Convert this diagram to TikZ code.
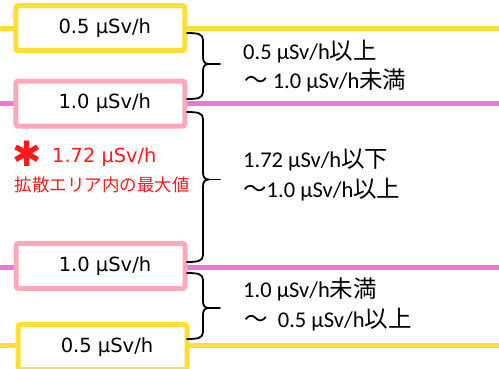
\documentclass[tikz,border=0pt]{standalone}
\usepackage{fontspec}
\newfontfamily\boxfont{DejaVu Sans}
\newfontfamily\rfont{Carlito}
\newfontfamily\jfont{Noto Sans CJK JP}
\definecolor{ylw}{HTML}{FFDF33}
\definecolor{pnkline}{HTML}{EE77CC}
\definecolor{pnkbox}{HTML}{FFA8BA}
\definecolor{redtxt}{HTML}{FF1A1A}
\newcommand\JP[1]{{\jfont\fontsize{23.5pt}{27pt}\selectfont #1}}
\newcommand\BraceR[4]{%
  \draw[bracepath] (#1,#2) .. controls (#1+11,#2) and (203,#2+1) .. (203,#2+7)
    -- (203,#4-7) .. controls (203,#4-2) and (205,#4) .. (209,#4)
    .. controls (205,#4) and (203,#4+2) .. (203,#4+7)
    -- (203,#3-7) .. controls (203,#3-1) and (#1+11,#3) .. (#1,#3);
  \draw[bracepath] (209,#4) -- (220,#4);}
\begin{document}
\begin{tikzpicture}[x=1pt,y=-1pt,
  yline/.style={draw=ylw,line width=5pt},
  pline/.style={draw=pnkline,line width=5pt},
  ybox/.style={draw=ylw,line width=5pt,fill=white,rounded corners=2.5pt,
    minimum width=169pt,minimum height=45pt,inner sep=0pt,
    font=\boxfont\fontsize{19.5pt}{23pt}\selectfont},
  pbox/.style={ybox,draw=pnkbox},
  rtext/.style={anchor=base west,inner sep=0pt,font=\rfont\fontsize{22.5pt}{27pt}\selectfont},
  bracepath/.style={draw=black,line width=1.8pt,line cap=round,line join=round}]
\useasboundingbox (0,0) rectangle (499,368);
% horizontal level lines
\coordinate (l1w) at (0,28);    \coordinate (l1e) at (499,28);
\coordinate (l2w) at (0,103);   \coordinate (l2e) at (499,103);
\coordinate (l3w) at (0,267.5); \coordinate (l3e) at (499,267.5);
\coordinate (l4w) at (0,345.5); \coordinate (l4e) at (499,345.5);
\draw[yline] (l1w) -- (l1e);
\draw[pline] (l2w) -- (l2e);
\draw[pline] (l3w) -- (l3e);
\draw[yline] (l4w) -- (l4e);
% boxes
\node[ybox] (b1) at (100.3,28.2) {\hspace*{9pt}0.5 µSv/h};
\node[pbox] (b2) at (100.3,103.5) {\hspace*{9pt}1.0 µSv/h};
\node[pbox] (b3) at (100.5,265.8) {\hspace*{9pt}1.0 µSv/h};
\node[ybox] (b4) at (102.5,347) {\hspace*{9pt}0.5 µSv/h};
% braces
\BraceR{187}{33}{99}{64}
\BraceR{187}{112}{262}{179.5}
\BraceR{187}{273}{339}{308}
% right texts
\node[rtext] (t1a) at (243,59) {0.5 µSv/h\JP{以上}};
\node[rtext] (t1b) at (244,88) {\JP{〜} 1.0 µSv/h\JP{未満}};
\node[rtext] (t2a) at (243,167) {1.72 µSv/h\JP{以下}};
\node[rtext] (t2b) at (243,197) {\JP{〜}1.0 µSv/h\JP{以上}};
\node[rtext] (t3a) at (243,297) {1.0 µSv/h\JP{未満}};
\node[rtext] (t3b) at (244,327) {\JP{〜}\ \ 0.5 µSv/h\JP{以上}};
% red annotation
\node[inner sep=0pt,text=redtxt,font=\boxfont\fontsize{35pt}{35pt}\selectfont] (star) at (27,154) {✱};
\node[anchor=base west,inner sep=0pt,text=redtxt,font=\boxfont\fontsize{19.4pt}{23pt}\selectfont] (maxv) at (52,162) {1.72 µSv/h};
\node[inner sep=0pt,text=redtxt,font=\jfont\fontsize{17.5pt}{20pt}\selectfont] (maxl) at (102.5,185) {拡散エリア内の最大値};
\end{tikzpicture}
\end{document}
